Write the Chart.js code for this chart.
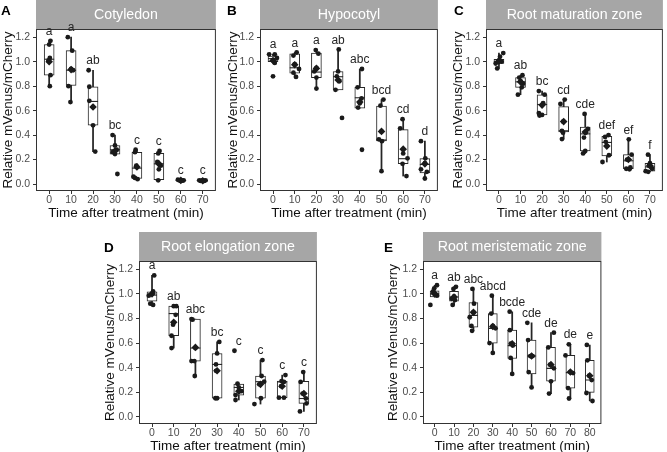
<!DOCTYPE html>
<html><head><meta charset="utf-8">
<script src="https://cdn.jsdelivr.net/npm/chart.js@4.4.1/dist/chart.umd.min.js"></script>
<style>
html,body{margin:0;padding:0;background:#fff;}
body{width:667px;height:452px;overflow:hidden;position:relative;}
canvas{position:absolute;}
</style>
</head><body>
<canvas id="cA" width="222" height="221" style="left:0px;top:0px;width:222px;height:221px"></canvas>
<canvas id="cB" width="222" height="221" style="left:222px;top:0px;width:222px;height:221px"></canvas>
<canvas id="cC" width="225" height="221" style="left:444px;top:0px;width:225px;height:221px"></canvas>
<canvas id="cD" width="228" height="228" style="left:95px;top:226px;width:228px;height:228px"></canvas>
<canvas id="cE" width="229" height="228" style="left:378px;top:226px;width:229px;height:228px"></canvas>
<script>
// ---------- shared axis data ----------
const yTickValues = [0, 0.2, 0.4, 0.6, 0.8, 1.0, 1.2];
const yTickLabels = ['0.0', '0.2', '0.4', '0.6', '0.8', '1.0', '1.2'];
const xAxisTitle = 'Time after treatment (min)';
const yAxisTitle = 'Relative mVenus/mCherry';
const times8 = ['0', '10', '20', '30', '40', '50', '60', '70'];
const times9 = ['0', '10', '20', '30', '40', '50', '60', '70', '80'];

// ---------- Panel A: Cotyledon ----------
const panelATitle = 'Cotyledon';
const panelAGroups = ['a', 'a', 'ab', 'bc', 'c', 'c', 'c', 'c'];
const panelAPoints = [
  [1.17, 1.14, 1.03, 1.01, 0.89, 0.80],
  [1.20, 1.09, 0.94, 0.93, 0.80, 0.67],
  [0.93, 0.795, 0.68, 0.63, 0.48, 0.265],
  [0.40, 0.315, 0.28, 0.26, 0.245, 0.082],
  [0.28, 0.26, 0.15, 0.06, 0.05, 0.04],
  [0.27, 0.25, 0.18, 0.15, 0.12, 0.03],
  [0.035, 0.03, 0.03, 0.028, 0.03, 0.025],
  [0.03, 0.025, 0.03, 0.025, 0.03, 0.025]
];
const panelAJitter = [
  [0.06, 0, 0.03, -0.03, 0.06, 0.03],
  [-0.15, 0.05, 0, 0.09, -0.12, -0.03],
  [-0.2, -0.17, -0.17, 0, 0, 0.1],
  [-0.11, 0, 0.08, -0.1, 0, 0.11],
  [-0.06, -0.09, -0.03, -0.16, -0.09, 0.03],
  [0.03, -0.03, -0.07, 0.09, 0, -0.03],
  [-0.13, -0.06, 0.01, 0.09, 0.13, -0.01],
  [-0.16, -0.09, -0.01, 0.06, 0.13, 0.03]
];
// [lower whisker, Q1, median, Q3, upper whisker]
const panelABoxes = [
  [0.80, 0.89, 1.02, 1.14, 1.17],
  [0.67, 0.805, 0.93, 1.09, 1.20],
  [0.265, 0.48, 0.675, 0.795, 0.93],
  [0.245, 0.245, 0.28, 0.315, 0.40],
  [0.04, 0.045, 0.13, 0.26, 0.28],
  [0.03, 0.035, 0.165, 0.25, 0.27],
  [0.025, 0.027, 0.03, 0.032, 0.035],
  [0.022, 0.025, 0.027, 0.03, 0.031]
];
const panelAMeans = [1.0, 0.935, 0.63, 0.27, 0.14, 0.165, 0.03, 0.027];

// ---------- Panel B: Hypocotyl ----------
const panelBTitle = 'Hypocotyl';
const panelBGroups = ['a', 'a', 'a', 'ab', 'abc', 'bcd', 'cd', 'd'];
const panelBPoints = [
  [1.06, 1.06, 1.03, 1.01, 0.99, 0.88],
  [1.075, 1.05, 0.98, 0.94, 0.91, 0.875],
  [1.095, 1.065, 0.95, 0.92, 0.87, 0.78],
  [1.10, 0.92, 0.88, 0.84, 0.77, 0.54],
  [0.94, 0.79, 0.70, 0.66, 0.625, 0.28],
  [0.69, 0.64, 0.43, 0.365, 0.35, 0.105],
  [0.53, 0.455, 0.25, 0.21, 0.165, 0.065],
  [0.35, 0.21, 0.17, 0.12, 0.10, 0.045]
];
const panelBJitter = [
  [-0.18, 0.08, 0.18, 0, 0.08, 0],
  [0.09, -0.06, 0, 0.2, -0.06, 0.06],
  [-0.03, 0.09, 0, -0.1, 0, 0],
  [0.03, 0, -0.06, 0.06, -0.12, 0.18],
  [0.1, -0.1, 0.08, 0, -0.08, 0.1],
  [0.09, -0.05, 0, -0.12, 0.02, 0],
  [-0.03, -0.14, 0, 0.2, -0.03, 0.15],
  [-0.18, 0.02, 0, -0.18, 0.09, 0]
];
const panelBBoxes = [
  [0.99, 1.0, 1.025, 1.045, 1.06],
  [0.875, 0.905, 0.95, 1.065, 1.075],
  [0.78, 0.87, 0.915, 1.07, 1.095],
  [0.77, 0.77, 0.877, 0.92, 1.10],
  [0.62, 0.62, 0.705, 0.79, 0.94],
  [0.105, 0.352, 0.36, 0.637, 0.69],
  [0.065, 0.167, 0.207, 0.445, 0.53],
  [0.045, 0.09, 0.16, 0.207, 0.35]
];
const panelBMeans = [1.01, 0.975, 0.945, 0.85, 0.67, 0.43, 0.285, 0.165];

// ---------- Panel C: Root maturation zone ----------
const panelCTitle = 'Root maturation zone';
const panelCGroups = ['a', 'ab', 'bc', 'cd', 'cde', 'def', 'ef', 'f'];
const panelCPoints = [
  [1.07, 1.04, 1.01, 1.0, 0.985, 0.945],
  [0.89, 0.87, 0.84, 0.82, 0.79, 0.73],
  [0.76, 0.73, 0.66, 0.58, 0.565, 0.56],
  [0.69, 0.655, 0.51, 0.435, 0.42, 0.367],
  [0.573, 0.45, 0.42, 0.38, 0.27, 0.25],
  [0.40, 0.385, 0.345, 0.31, 0.235, 0.18],
  [0.365, 0.24, 0.2, 0.135, 0.125, 0.12],
  [0.24, 0.17, 0.15, 0.125, 0.105, 0.1]
];
const panelCJitter = [
  [0.2, 0.05, 0, 0.12, -0.15, -0.08],
  [0.09, -0.06, 0, 0.12, 0.06, -0.12],
  [-0.15, 0.12, 0.05, -0.15, 0, -0.12],
  [0.05, -0.15, -0.03, -0.08, -0.03, -0.08],
  [-0.03, 0.12, 0.02, -0.06, 0, -0.1],
  [0.08, -0.08, -0.05, 0, 0.1, -0.2],
  [0.02, 0.15, -0.06, 0.09, -0.1, 0.05],
  [-0.09, 0, -0.05, 0.1, -0.2, -0.08]
];
const panelCBoxes = [
  [0.945, 0.985, 1.0, 1.02, 1.07],
  [0.73, 0.79, 0.835, 0.87, 0.89],
  [0.56, 0.565, 0.65, 0.73, 0.76],
  [0.367, 0.425, 0.435, 0.633, 0.69],
  [0.25, 0.27, 0.41, 0.465, 0.573],
  [0.18, 0.23, 0.34, 0.39, 0.40],
  [0.12, 0.125, 0.19, 0.24, 0.365],
  [0.1, 0.105, 0.14, 0.17, 0.24]
];
const panelCMeans = [1.005, 0.835, 0.645, 0.51, 0.425, 0.31, 0.2, 0.15];

// ---------- Panel D: Root elongation zone ----------
const panelDTitle = 'Root elongation zone';
const panelDGroups = ['a', 'ab', 'abc', 'bc', 'c', 'c', 'c', 'c'];
const panelDPoints = [
  [1.15, 1.02, 1.0, 0.985, 0.92, 0.91],
  [0.90, 0.90, 0.83, 0.75, 0.66, 0.56],
  [0.795, 0.79, 0.56, 0.454, 0.454, 0.333],
  [0.61, 0.516, 0.427, 0.375, 0.152, 0.152],
  [0.538, 0.27, 0.24, 0.21, 0.178, 0.138],
  [0.462, 0.333, 0.287, 0.265, 0.152, 0.105],
  [0.34, 0.292, 0.285, 0.25, 0.157, 0.157],
  [0.365, 0.285, 0.19, 0.15, 0.11, 0.045]
];
const panelDJitter = [
  [0.1, 0.05, 0, -0.15, -0.08, 0.05],
  [0.12, 0, 0.09, -0.03, -0.1, -0.1],
  [-0.18, -0.13, 0, -0.18, -0.05, -0.03],
  [0.1, 0, -0.05, -0.05, -0.08, 0],
  [-0.2, -0.06, 0, 0.12, -0.15, -0.15],
  [0.09, 0.05, 0.17, -0.06, 0.02, -0.28],
  [0.15, -0.03, 0.08, -0.05, -0.15, 0.08],
  [-0.03, -0.15, -0.06, 0.09, 0.12, -0.18]
];
const panelDBoxes = [
  [0.91, 0.94, 0.99, 1.016, 1.15],
  [0.56, 0.66, 0.84, 0.90, 0.90],
  [0.333, 0.454, 0.56, 0.795, 0.795],
  [0.152, 0.152, 0.427, 0.516, 0.61],
  [0.138, 0.178, 0.24, 0.268, 0.27],
  [0.105, 0.152, 0.287, 0.333, 0.462],
  [0.157, 0.157, 0.285, 0.292, 0.34],
  [0.045, 0.11, 0.15, 0.29, 0.365]
];
const panelDMeans = [1.0, 0.77, 0.565, 0.375, 0.21, 0.265, 0.25, 0.19];

// ---------- Panel E: Root meristematic zone ----------
const panelETitle = 'Root meristematic zone';
const panelEGroups = ['a', 'ab', 'abc', 'abcd', 'bcde', 'cde', 'de', 'de', 'e'];
const panelEPoints = [
  [1.07, 1.045, 1.02, 1.0, 0.985, 0.91],
  [1.057, 1.04, 0.98, 0.96, 0.95, 0.91],
  [1.04, 0.92, 0.85, 0.81, 0.74, 0.70],
  [0.985, 0.84, 0.74, 0.72, 0.60, 0.52],
  [0.855, 0.705, 0.595, 0.58, 0.48, 0.35],
  [0.765, 0.625, 0.495, 0.495, 0.365, 0.24],
  [0.685, 0.565, 0.425, 0.395, 0.29, 0.19],
  [0.59, 0.50, 0.365, 0.357, 0.235, 0.15],
  [0.585, 0.46, 0.335, 0.30, 0.195, 0.13]
];
const panelEJitter = [
  [0.12, -0.02, -0.08, 0.03, 0.12, -0.22],
  [0.1, -0.03, 0, -0.12, 0.05, -0.07],
  [-0.05, 0.03, 0, -0.19, -0.1, -0.07],
  [-0.05, -0.08, 0, 0.14, -0.17, 0],
  [-0.13, -0.12, -0.07, 0.03, -0.08, 0],
  [-0.22, -0.18, -0.07, 0.05, -0.15, 0],
  [0.15, -0.14, -0.05, 0.15, 0, -0.1],
  [-0.08, -0.25, 0, 0.14, -0.12, -0.07],
  [-0.15, -0.12, -0.03, 0.1, -0.17, 0.14]
];
const panelEBoxes = [
  [0.975, 0.975, 1.0, 1.025, 1.07],
  [0.91, 0.94, 0.975, 1.02, 1.057],
  [0.70, 0.73, 0.825, 0.93, 1.04],
  [0.52, 0.60, 0.72, 0.84, 0.985],
  [0.35, 0.475, 0.58, 0.705, 0.855],
  [0.24, 0.35, 0.495, 0.625, 0.765],
  [0.19, 0.29, 0.395, 0.565, 0.685],
  [0.15, 0.235, 0.36, 0.50, 0.59],
  [0.13, 0.20, 0.30, 0.46, 0.585]
];
const panelEMeans = [1.0, 0.975, 0.85, 0.735, 0.595, 0.495, 0.425, 0.365, 0.335];

// ---------- drawing ----------
const FONT = '"Liberation Sans", Arial, Helvetica, sans-serif';
const INK = '#262626';

function makeDecor(cfg) {
  return {
    id: 'panelDecor',
    beforeDraw(chart) {
      const { ctx, chartArea: a } = chart;
      ctx.save();
      ctx.fillStyle = '#a6a6a6';
      ctx.fillRect(a.left, a.top - cfg.stripH, a.right - a.left, cfg.stripH);
      ctx.fillStyle = '#ffffff';
      ctx.font = '14.2px ' + FONT;
      ctx.textAlign = 'center';
      ctx.textBaseline = 'middle';
      ctx.fillText(cfg.title, (a.left + a.right) / 2, a.top - cfg.stripH / 2 + 0.5);
      ctx.fillStyle = '#000000';
      ctx.font = 'bold 13.5px ' + FONT;
      ctx.textAlign = 'left';
      ctx.textBaseline = 'alphabetic';
      ctx.fillText(cfg.letter, cfg.lx, cfg.ly);
      ctx.restore();
    },
    afterDraw(chart) {
      const { ctx, chartArea: a, scales } = chart;
      ctx.save();
      ctx.strokeStyle = '#333333';
      ctx.lineWidth = 1;
      ctx.strokeRect(a.left + 0.5, a.top + 0.5, a.right - a.left - 1, a.bottom - a.top - 1);
      ctx.fillStyle = INK;
      ctx.font = '12px ' + FONT;
      ctx.textAlign = 'center';
      ctx.textBaseline = 'middle';
      cfg.groups.forEach((g, i) => {
        const top = Math.max(...cfg.points[i], cfg.boxes[i][4]);
        ctx.fillText(g, scales.x.getPixelForValue(i), scales.y.getPixelForValue(top + 0.075));
      });
      ctx.restore();
    }
  };
}

function buildPanel(id, cfg) {
  const n = cfg.times.length;
  const whiskers = cfg.boxes.map((b, i) => ({ x: i, y: [b[0], b[4]] }));
  const boxes = cfg.boxes.map((b, i) => ({ x: i, y: [b[1], b[3]] }));
  const medians = cfg.boxes.map((b, i) => ({ x: i, y: b[2] }));
  const pts = [];
  cfg.points.forEach((arr, i) => arr.forEach((v, j) => pts.push({ x: i + cfg.jitter[i][j], y: v })));
  const means = cfg.means.map((m, i) => ({ x: i, y: m }));

  return new Chart(document.getElementById(id), {
    type: 'bar',
    data: {
      datasets: [
        { type: 'line', data: means, showLine: false, order: 0, pointStyle: 'rectRot',
          pointRadius: 3.8, pointBackgroundColor: '#1a1a1a', pointBorderWidth: 0 },
        { type: 'line', data: pts, showLine: false, order: 1, pointStyle: 'circle',
          pointRadius: 2.4, pointBackgroundColor: '#1a1a1a', pointBorderWidth: 0 },
        { type: 'line', data: medians, showLine: false, order: 2, pointStyle: 'line',
          pointRadius: cfg.bw / 2, pointBorderColor: INK, pointBorderWidth: 1.1 },
        { type: 'bar', data: boxes, order: 3, grouped: false, barThickness: cfg.bw,
          backgroundColor: '#ffffff', borderColor: INK, borderWidth: 1, borderSkipped: false },
        { type: 'bar', data: whiskers, order: 4, grouped: false, barThickness: 1.1,
          backgroundColor: INK, borderWidth: 0 }
      ]
    },
    options: {
      responsive: false,
      devicePixelRatio: 1,
      animation: false,
      events: [],
      layout: { padding: { top: cfg.padTop, right: cfg.padRight, left: 0, bottom: 0 } },
      plugins: { legend: { display: false }, tooltip: { enabled: false }, title: { display: false } },
      scales: {
        x: {
          type: 'linear',
          offset: false,
          min: -0.6,
          max: n - 1 + 0.6,
          afterBuildTicks: (s) => { s.ticks = cfg.times.map((_, i) => ({ value: i })); },
          afterFit: (s) => { s.height = cfg.xh; },
          ticks: {
            autoSkip: false, maxRotation: 0, padding: 0, color: '#4d4d4d',
            font: { family: FONT, size: 10.5 },
            callback: (v, idx) => cfg.times[idx]
          },
          grid: { display: true, offset: false, drawOnChartArea: false, drawTicks: true, tickLength: 3, color: '#333333' },
          border: { display: false },
          title: { display: true, text: xAxisTitle, color: '#111111', padding: { top: 0, bottom: 0 },
            font: { family: FONT, size: 13.5 } }
        },
        y: {
          type: 'linear',
          min: -0.057,
          max: 1.267,
          afterBuildTicks: (s) => { s.ticks = yTickValues.map((v) => ({ value: v })); },
          afterFit: (s) => { s.width = cfg.yw; },
          ticks: {
            padding: 3, color: '#4d4d4d', font: { family: FONT, size: 10.5 },
            callback: (v, idx) => yTickLabels[idx]
          },
          grid: { display: true, drawOnChartArea: false, drawTicks: true, tickLength: 3, color: '#333333' },
          border: { display: false },
          title: { display: true, text: yAxisTitle, color: '#111111', padding: { top: cfg.ytPad, bottom: 0 },
            font: { family: FONT, size: 13.5 } }
        }
      }
    },
    plugins: [makeDecor(cfg)]
  });
}

buildPanel('cA', { title: panelATitle, letter: 'A', lx: 1, ly: 15, times: times8, groups: panelAGroups,
  points: panelAPoints, jitter: panelAJitter, boxes: panelABoxes, means: panelAMeans,
  bw: 10, padTop: 29, padRight: 4, yw: 36, xh: 30, ytPad: 0.4, stripH: 29 });
buildPanel('cB', { title: panelBTitle, letter: 'B', lx: 5, ly: 15, times: times8, groups: panelBGroups,
  points: panelBPoints, jitter: panelBJitter, boxes: panelBBoxes, means: panelBMeans,
  bw: 10, padTop: 29, padRight: 2, yw: 38, xh: 30, ytPad: 3, stripH: 29 });
buildPanel('cC', { title: panelCTitle, letter: 'C', lx: 10, ly: 15, times: times8, groups: panelCGroups,
  points: panelCPoints, jitter: panelCJitter, boxes: panelCBoxes, means: panelCMeans,
  bw: 10, padTop: 29, padRight: 1, yw: 42, xh: 30, ytPad: 6, stripH: 29 });
buildPanel('cD', { title: panelDTitle, letter: 'D', lx: 9, ly: 26, times: times8, groups: panelDGroups,
  points: panelDPoints, jitter: panelDJitter, boxes: panelDBoxes, means: panelDMeans,
  bw: 10, padTop: 35, padRight: 3, yw: 44, xh: 30, ytPad: 7.6, stripH: 29 });
buildPanel('cE', { title: panelETitle, letter: 'E', lx: 6, ly: 26, times: times9, groups: panelEGroups,
  points: panelEPoints, jitter: panelEJitter, boxes: panelEBoxes, means: panelEMeans,
  bw: 9, padTop: 35, padRight: 3, yw: 45, xh: 30, ytPad: 7.5, stripH: 29 });
</script>
</body></html>
